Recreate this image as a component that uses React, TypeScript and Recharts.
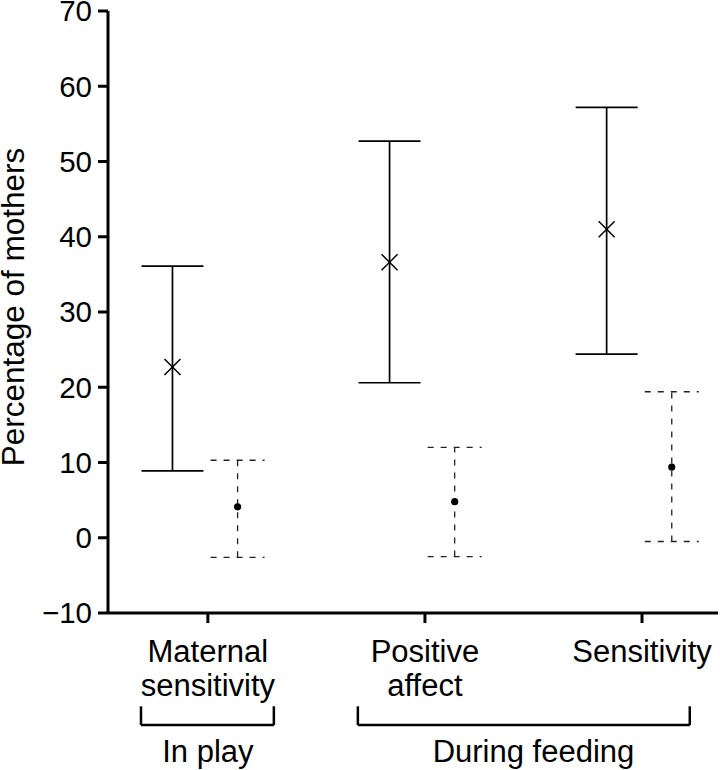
import React from 'react';
import { ComposedChart, Scatter, XAxis, YAxis, ErrorBar, ReferenceLine, Label } from 'recharts';

const categoryLines: string[][] = [['Maternal', 'sensitivity'], ['Positive', 'affect'], ['Sensitivity']];
const groupLabels = ['In play', 'During feeding'];
const groupCenters = [0, 1.5];
const yTicks = [-10, 0, 10, 20, 30, 40, 50, 60, 70];

// solid (cross) series
const solidMean = [22.7, 36.6, 41.0];
const solidLow = [8.9, 20.6, 24.4];
const solidHigh = [36.1, 52.7, 57.2];

// dashed (dot) series
const dashedMean = [4.1, 4.8, 9.4];
const dashedLow = [-2.6, -2.5, -0.5];
const dashedHigh = [10.3, 12.0, 19.4];

const FONT = '"Liberation Sans", Arial, Helvetica, sans-serif';
const SOLID_OFFSET = -0.163;
const DASHED_OFFSET = 0.137;

const solidData = solidMean.map((m, i) => ({
  x: i + SOLID_OFFSET,
  y: m,
  err: [m - solidLow[i], solidHigh[i] - m],
}));
const dashedData = dashedMean.map((m, i) => ({
  x: i + DASHED_OFFSET,
  y: m,
  err: [m - dashedLow[i], dashedHigh[i] - m],
}));

// bracket geometry (data units)
const brackets = [
  { x1: -0.308, x2: 0.304 },
  { x1: 0.691, x2: 2.22 },
];
const BR_Y = -24.9;
const BR_TOP = -22.4;

const CrossShape = (props: any) => {
  const { cx, cy } = props;
  const s = 8;
  return (
    <g>
      <line x1={cx - s} y1={cy - s} x2={cx + s} y2={cy + s} stroke="#000" strokeWidth={1.5} />
      <line x1={cx - s} y1={cy + s} x2={cx + s} y2={cy - s} stroke="#000" strokeWidth={1.5} />
    </g>
  );
};

const DotShape = (props: any) => {
  const { cx, cy } = props;
  return <circle cx={cx} cy={cy} r={3.6} fill="#000" />;
};

const CategoryTick = (props: any) => {
  const { x, y, payload } = props;
  const lines = categoryLines[Math.round(payload.value)] || [];
  return (
    <g>
      {lines.map((l, k) => (
        <text key={k} x={x} y={y + 39 + k * 34} textAnchor="middle" fontSize={31} fontFamily={FONT} fill="#000">
          {l}
        </text>
      ))}
    </g>
  );
};

const GroupTick = (props: any) => {
  const { x, y, index } = props;
  return (
    <text x={x} y={y + 54} textAnchor="middle" fontSize={31} fontFamily={FONT} fill="#000">
      {groupLabels[index]}
    </text>
  );
};

const YLabel = (props: any) => {
  const vb = props.viewBox || { x: 0, y: 11, width: 108, height: 602 };
  const cx = vb.x + 24;
  const cy = vb.y + 296;
  return (
    <text
      x={cx}
      y={cy}
      transform={`rotate(-90 ${cx} ${cy})`}
      textAnchor="middle"
      fontSize={31.5}
      fontFamily={FONT}
      fill="#000"
    >
      Percentage of mothers
    </text>
  );
};

export default function App() {
  return (
    <div style={{ position: 'absolute', left: 0, top: 0, width: 720, height: 770, background: '#fff' }}>
      <ComposedChart width={720} height={770} margin={{ top: 11, right: 2, bottom: 0, left: 0 }}>
        <XAxis
          type="number"
          dataKey="x"
          domain={[-0.46, 2.35]}
          ticks={[0, 1, 2]}
          allowDataOverflow
          height={95}
          axisLine={{ stroke: '#000', strokeWidth: 3 }}
          tickLine={{ stroke: '#000', strokeWidth: 3 }}
          tickSize={10}
          tickMargin={0}
          interval={0}
          tick={<CategoryTick />}
        />
        <XAxis
          xAxisId="grp"
          type="number"
          dataKey="x"
          domain={[-0.46, 2.35]}
          ticks={groupCenters}
          allowDataOverflow
          height={62}
          axisLine={false}
          tickLine={false}
          tickSize={0}
          tickMargin={0}
          interval={0}
          tick={<GroupTick />}
        />
        <YAxis
          type="number"
          dataKey="y"
          domain={[-10, 70]}
          ticks={yTicks}
          allowDataOverflow
          width={108}
          interval={0}
          axisLine={{ stroke: '#000', strokeWidth: 3 }}
          tickLine={{ stroke: '#000', strokeWidth: 3 }}
          tickSize={10}
          tickMargin={6}
          tick={{ fontSize: 29.5, fill: '#000', fontFamily: FONT }}
          tickFormatter={(v: number) => (v < 0 ? '\u2212' + Math.abs(v) : String(v))}
        >
          <Label content={<YLabel />} />
        </YAxis>
        {brackets.map((b, i) => (
          <ReferenceLine
            key={'h' + i}
            segment={[{ x: b.x1, y: BR_Y }, { x: b.x2, y: BR_Y }]}
            stroke="#000"
            strokeWidth={2.5}
            ifOverflow="visible"
          />
        ))}
        {brackets.map((b, i) => (
          <ReferenceLine
            key={'l' + i}
            segment={[{ x: b.x1, y: BR_TOP }, { x: b.x1, y: BR_Y }]}
            stroke="#000"
            strokeWidth={2.5}
            ifOverflow="visible"
          />
        ))}
        {brackets.map((b, i) => (
          <ReferenceLine
            key={'r' + i}
            segment={[{ x: b.x2, y: BR_TOP }, { x: b.x2, y: BR_Y }]}
            stroke="#000"
            strokeWidth={2.5}
            ifOverflow="visible"
          />
        ))}
        <Scatter data={solidData} shape={<CrossShape />} isAnimationActive={false}>
          <ErrorBar dataKey="err" direction="y" width={31} stroke="#000" strokeWidth={1.7} isAnimationActive={false} />
        </Scatter>
        <Scatter data={dashedData} shape={<DotShape />} isAnimationActive={false}>
          <ErrorBar
            dataKey="err"
            direction="y"
            width={27}
            stroke="#222"
            strokeWidth={1.3}
            strokeDasharray="6 7"
            isAnimationActive={false}
          />
        </Scatter>
      </ComposedChart>
    </div>
  );
}
